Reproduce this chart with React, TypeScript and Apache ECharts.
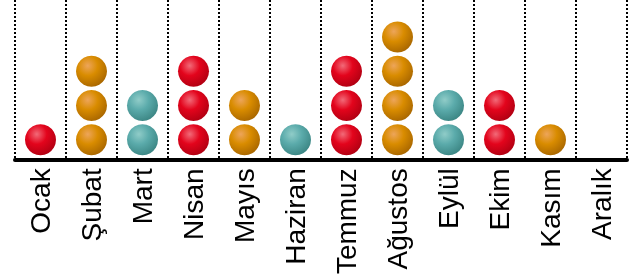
import React, { useEffect, useRef } from "react";
import * as echarts from "echarts";

const months = ["Ocak", "Şubat", "Mart", "Nisan", "Mayıs", "Haziran", "Temmuz", "Ağustos", "Eylül", "Ekim", "Kasım", "Aralık"];
const counts = [1, 3, 2, 3, 2, 1, 3, 4, 2, 2, 1, 0];

const palettes = [
  ["#f26a78", "#e3041c", "#b00012"],
  ["#eda55a", "#d98c00", "#a86600"],
  ["#90ccc8", "#5babab", "#3b8583"],
];

function ball(p: string[]) {
  return {
    type: "radial",
    x: 0.38,
    y: 0.32,
    r: 0.72,
    colorStops: [
      { offset: 0, color: p[0] },
      { offset: 0.45, color: p[1] },
      { offset: 1, color: p[2] },
    ],
  };
}

export default function App() {
  const ref = useRef<HTMLDivElement>(null);
  useEffect(() => {
    const chart = echarts.init(ref.current!, undefined, { renderer: "svg" });
    const data: any[] = [];
    counts.forEach((c, i) => {
      for (let k = 1; k <= c; k++) {
        data.push({ value: [i, k], itemStyle: { color: ball(palettes[i % 3]) } });
      }
    });
    chart.setOption({
      animation: false,
      grid: { left: 15, right: 8, top: 0, bottom: 119.7, containLabel: false },
      xAxis: {
        type: "category",
        data: months,
        boundaryGap: true,
        axisLine: { show: true, lineStyle: { color: "#000", width: 4 } },
        axisTick: { show: false },
        axisLabel: {
          rotate: 90,
          margin: 9,
          interval: 0,
          color: "#000",
          fontSize: 28,
          fontFamily: "Liberation Sans, Arial, sans-serif",
        },
        splitLine: { show: true, lineStyle: { color: "#000", width: 2, type: [2, 2] } },
      },
      yAxis: {
        type: "value",
        min: 0.43,
        max: 5.08,
        show: false,
        splitLine: { show: false },
      },
      series: [
        {
          type: "scatter",
          symbol: "circle",
          symbolSize: 31,
          data,
          itemStyle: { opacity: 1 },
        },
      ],
    });
    return () => chart.dispose();
  }, []);
  return <div ref={ref} style={{ position: "fixed", left: 0, top: 0, width: 635, height: 279 }} />;
}
